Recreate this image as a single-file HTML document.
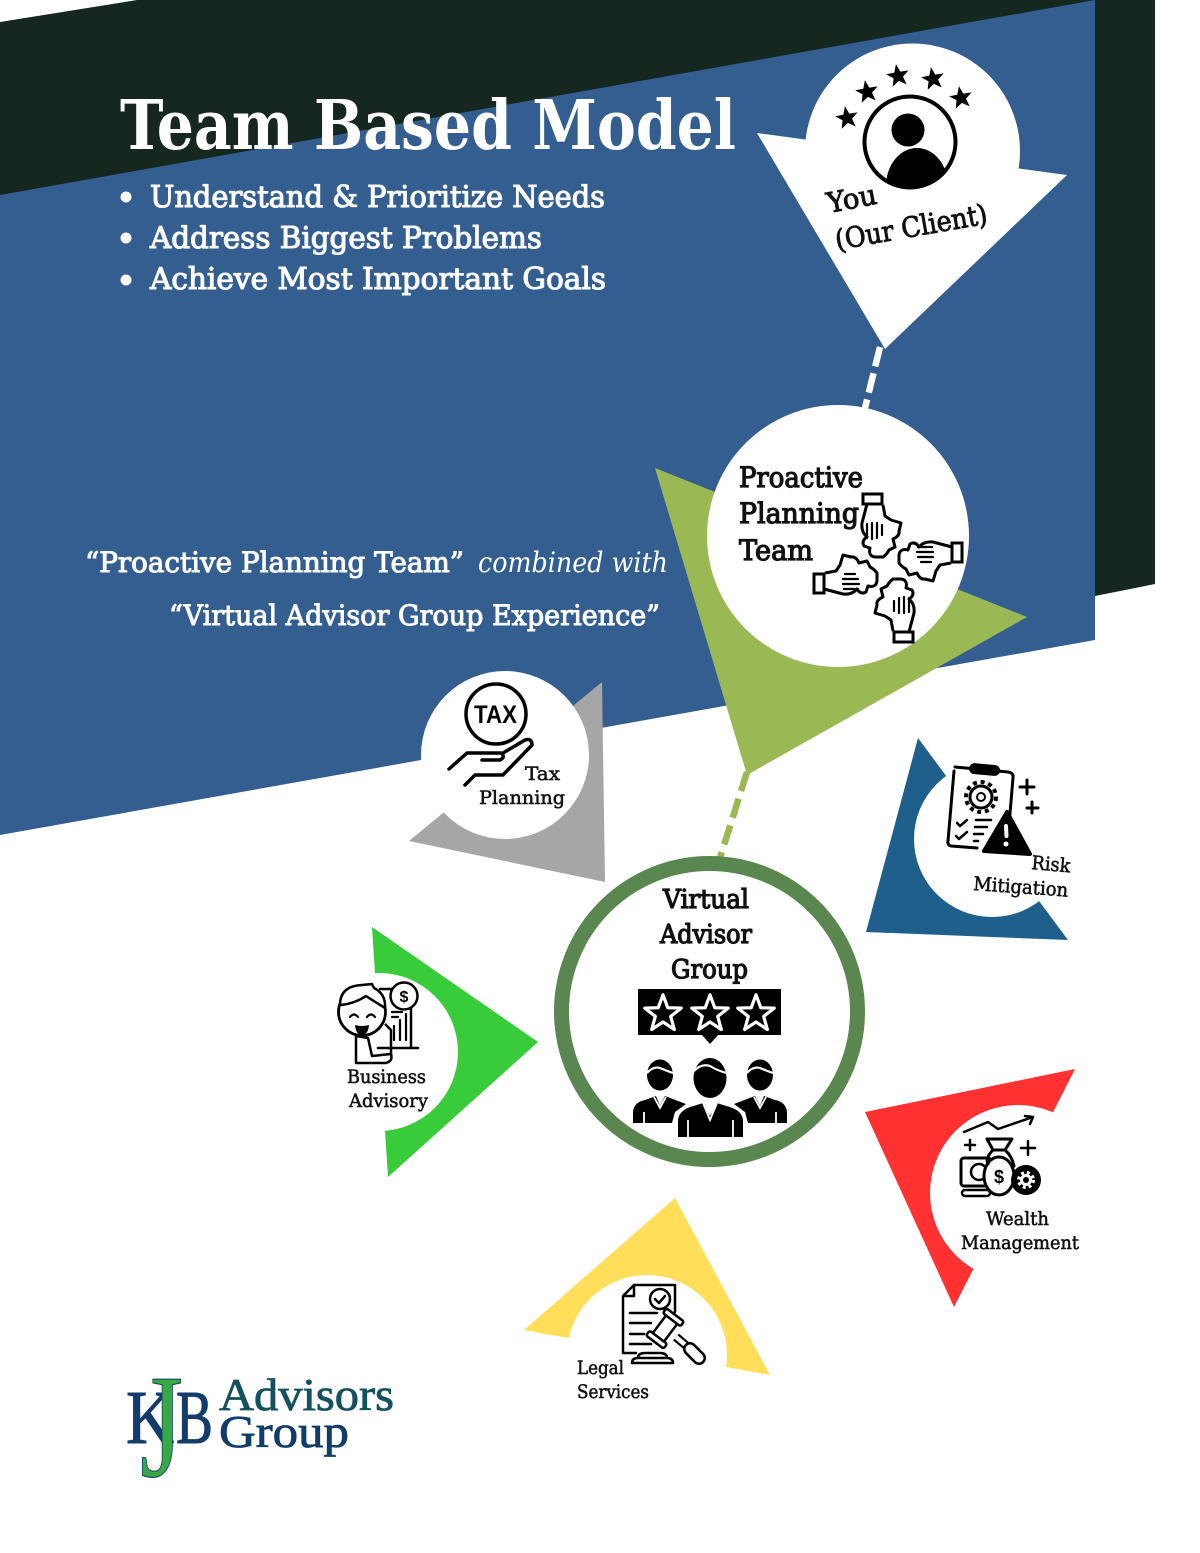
<!DOCTYPE html>
<html><head><meta charset="utf-8"><style>
html,body{margin:0;padding:0;background:#fff;width:1200px;height:1553px;overflow:hidden}
svg{display:block}
text{font-family:"DejaVu Serif","Liberation Serif",serif}
.b{font-weight:700}
.w{fill:#fff}
.k{fill:#111}
.m{stroke:#111;stroke-width:.55}
.s{fill:none;stroke:#000;stroke-linecap:round;stroke-linejoin:round}
</style></head><body>
<svg width="1200" height="1553" viewBox="0 0 1200 1553" xmlns="http://www.w3.org/2000/svg">
<defs>
<polygon id="star" points="0,-12 3,-3.9 11.4,-3.7 4.8,1.5 7.1,9.7 0,5 -7.1,9.7 -4.8,1.5 -11.4,-3.7 -3,-3.9"/>
<clipPath id="cp"><circle cx="910" cy="142" r="46"/></clipPath>
<g id="hand">
<path d="M-21,-64 L-26,-45 Q-27,-36 -21,-31 Q-27,-27 -24,-22 L-18,-20 Q-20,-12 -13,-11 L-5,-11 Q-1,-14 1,-18 L7,-21 L5,-29 Q12,-32 11,-37 L13,-45 L3,-48 L-3,-52 L-5,-63" fill="#fff" stroke="#000" stroke-width="3" stroke-linejoin="round"/>
<rect x="-25" y="-74" width="19" height="10" fill="#fff" stroke="#000" stroke-width="3"/>
<path d="M-21,-44V-30M-16,-45V-29M-11,-45V-30M-6,-43V-33" class="s" stroke-width="2.2"/>
</g>
</defs>

<!-- background -->
<polygon points="0,22 137,0 1155,0 1155,584 1095,596 0,400" fill="#15271f"/>
<polygon points="0,195 1095,0 1095,640 0,835" fill="#335e8f"/>

<!-- title -->
<text x="120" y="149" class="b w" font-size="68" textLength="616" lengthAdjust="spacingAndGlyphs">Team Based Model</text>
<circle cx="126" cy="197" r="5.5" fill="#fff"/><circle cx="126" cy="238" r="5.5" fill="#fff"/><circle cx="126" cy="280" r="5.5" fill="#fff"/>
<g class="w" font-size="30" stroke="#fff" stroke-width="1.1">
<text x="150" y="207" textLength="455" lengthAdjust="spacingAndGlyphs">Understand &amp; Prioritize Needs</text>
<text x="150" y="248" textLength="392" lengthAdjust="spacingAndGlyphs">Address Biggest Problems</text>
<text x="150" y="289" textLength="456" lengthAdjust="spacingAndGlyphs">Achieve Most Important Goals</text>
</g>
<g class="w" font-size="28">
<text x="85" y="572" stroke="#fff" stroke-width="1" textLength="379" lengthAdjust="spacingAndGlyphs">“Proactive Planning Team”</text>
<text x="478" y="572" font-style="italic" textLength="190" lengthAdjust="spacingAndGlyphs">combined with</text>
<text x="169" y="625" stroke="#fff" stroke-width="1" textLength="491" lengthAdjust="spacingAndGlyphs">“Virtual Advisor Group Experience”</text>
</g>

<!-- connectors -->
<line x1="880" y1="347" x2="865" y2="408" stroke="#fff" stroke-width="6.5" stroke-dasharray="20 7"/>
<line x1="747" y1="772" x2="720" y2="858" stroke="#9ab955" stroke-width="6.5" stroke-dasharray="20 8"/>

<!-- You -->
<polygon points="757,133 1067,175 885,349" fill="#fff"/>
<circle cx="912.5" cy="151" r="107.5" fill="#fff"/>
<g fill="#000">
<use href="#star" transform="translate(847,118) rotate(-10)"/>
<use href="#star" transform="translate(867,92) rotate(-10)"/>
<use href="#star" transform="translate(898,76) rotate(-10)"/>
<use href="#star" transform="translate(933,79) rotate(-10)"/>
<use href="#star" transform="translate(961,98) rotate(-10)"/>
</g>
<circle cx="910" cy="142" r="45.5" fill="#fff" stroke="#000" stroke-width="4"/>
<circle cx="908" cy="130" r="16.5" fill="#000"/>
<g clip-path="url(#cp)"><ellipse cx="917" cy="186" rx="31" ry="38" fill="#000"/></g>
<text transform="translate(829,213) rotate(-11)" font-size="28" class="k m" style="stroke-width:.9" textLength="50" lengthAdjust="spacingAndGlyphs">You</text>
<text transform="translate(837,250) rotate(-10)" font-size="28" class="k m" style="stroke-width:.9" textLength="154" lengthAdjust="spacingAndGlyphs">(Our Client)</text>

<!-- Proactive -->
<polygon points="655,468 1027,617 747,775" fill="#9ab955"/>
<circle cx="838" cy="536" r="131" fill="#fff"/>
<g class="k m" font-size="28" style="stroke-width:1.2">
<text x="739" y="487" textLength="124" lengthAdjust="spacingAndGlyphs">Proactive</text>
<text x="739" y="523" textLength="120" lengthAdjust="spacingAndGlyphs">Planning</text>
<text x="739" y="560" textLength="74" lengthAdjust="spacingAndGlyphs">Team</text>
</g>
<g transform="translate(888,568)">
<use href="#hand"/>
<use href="#hand" transform="rotate(90)"/>
<use href="#hand" transform="rotate(180)"/>
<use href="#hand" transform="rotate(270)"/>
</g>

<!-- Tax -->
<polygon points="602,682 605,882 409,841" fill="#a6a6a6"/>
<circle cx="505" cy="755" r="84" fill="#fff"/>
<circle cx="496" cy="714" r="30" fill="none" stroke="#000" stroke-width="3.5"/>
<text x="474" y="723" style="font-family:'Liberation Sans',sans-serif" font-weight="700" font-size="25" fill="#000" textLength="43" lengthAdjust="spacingAndGlyphs">TAX</text>
<path d="M449,769 L467,753 H501 Q506,757 500,760 H482 M503,753 L525,740 Q532,738 532,745 L503,775 H475 L465,785" class="s" stroke-width="3.5"/>
<g class="k m" font-size="19">
<text x="525" y="780" textLength="35" lengthAdjust="spacingAndGlyphs">Tax</text>
<text x="479" y="804" textLength="86" lengthAdjust="spacingAndGlyphs">Planning</text>
</g>

<!-- Virtual Advisor Group -->
<circle cx="709.5" cy="1011.5" r="148" fill="#fff" stroke="#5a8650" stroke-width="15"/>
<g class="k m" font-size="26" style="stroke-width:1.2">
<text x="663" y="908" textLength="86" lengthAdjust="spacingAndGlyphs">Virtual</text>
<text x="660" y="943" textLength="92" lengthAdjust="spacingAndGlyphs">Advisor</text>
<text x="671" y="978" textLength="77" lengthAdjust="spacingAndGlyphs">Group</text>
</g>
<rect x="638" y="989" width="143" height="46" fill="#000"/>
<polygon points="702,1035 718,1035 710,1044" fill="#000"/>
<g fill="#000" stroke="#fff" stroke-width="2" stroke-linejoin="round">
<use href="#star" transform="translate(663,1014) scale(1.6)"/>
<use href="#star" transform="translate(710,1014) scale(1.6)"/>
<use href="#star" transform="translate(756,1014) scale(1.6)"/>
</g>
<g fill="#000">
<ellipse cx="660" cy="1075" rx="13" ry="15.5"/>
<ellipse cx="760" cy="1075" rx="13" ry="15.5"/>
<path d="M633,1123 V1112 Q634,1102 645,1100 L656,1096 L660,1106 L665,1096 L686,1104 L675,1112 L672,1123 Z"/>
<path d="M787,1123 V1112 Q786,1102 775,1100 L764,1096 L760,1106 L755,1096 L734,1104 L745,1112 L748,1123 Z"/>
<path d="M677,1138 V1120 Q678,1110 690,1106 L703,1102 L710,1114 L717,1102 L730,1106 Q743,1110 744,1120 V1138 Z" stroke="#fff" stroke-width="2"/>
<ellipse cx="710" cy="1078" rx="16.5" ry="20"/>
</g>
<path d="M647,1073 Q653,1066 660,1068 Q667,1071 673,1073 M747,1073 Q753,1066 760,1068 Q767,1071 773,1073 M693,1072 Q701,1063 710,1066 Q718,1071 727,1073" fill="none" stroke="#fff" stroke-width="2.2"/>
<path d="M654,1097 L660,1108 L666,1097 M754,1097 L760,1108 L766,1097 M703,1103 L710,1120 L717,1103 M644,1123 V1112 M776,1123 V1112 M688,1138 V1120 M733,1138 V1120" fill="none" stroke="#fff" stroke-width="1.8"/>

<!-- Risk -->
<polygon points="918,738 1068,940 866,932" fill="#1f5f8b"/>
<circle cx="992" cy="839" r="78" fill="#fff"/>
<path d="M955,767 L1008,772 Q1014,773 1013,778 L1009,825 M977,848 L951,846 Q947,845 948,841 L954,771" class="s" stroke-width="3"/>
<rect x="969" y="764" width="31" height="11" rx="5.5" fill="#000" transform="rotate(5 984 770)"/>
<circle cx="981" cy="797" r="11" fill="none" stroke="#000" stroke-width="3"/>
<circle cx="981" cy="797" r="15" fill="none" stroke="#000" stroke-width="4" stroke-dasharray="4 3.8"/>
<circle cx="981" cy="797" r="4" fill="none" stroke="#000" stroke-width="2"/>
<path d="M957,823 l3,3 l7,-6 M956,836 l3,3 l8,-7 M976,820 h15 M975,827 h12 M974,834 h9 M974,841 h4" class="s" stroke-width="2.5"/>
<polygon points="1007,812 1030,854 984,851" fill="#000" stroke="#000" stroke-width="4" stroke-linejoin="round"/>
<path d="M1006,826 l0.5,10" stroke="#fff" stroke-width="4" stroke-linecap="round"/>
<circle cx="1006" cy="844" r="2.5" fill="#fff"/>
<path d="M1027,780 v14 M1020,787 h14 M1032,802 v11 M1027,808 h11" class="s" stroke-width="3"/>
<text transform="translate(1031,869) rotate(5)" class="k m" font-size="19" textLength="39" lengthAdjust="spacingAndGlyphs">Risk</text>
<text transform="translate(973,890) rotate(4)" class="k m" font-size="19" textLength="95" lengthAdjust="spacingAndGlyphs">Mitigation</text>

<!-- Wealth -->
<polygon points="865,1112 1075,1069 954,1307" fill="#ff3131"/>
<circle cx="1018" cy="1193" r="88" fill="#fff"/>
<path d="M964,1132 L988,1122 L998,1129 L1033,1117 M1025,1116 L1033,1117 L1030,1124" class="s" stroke-width="2.5"/>
<path d="M970,1140 v10 M965,1145 h10 M1028,1141 v14 M1021,1148 h14" class="s" stroke-width="2.5"/>
<rect x="961" y="1158" width="30" height="28" rx="3" fill="#fff" stroke="#000" stroke-width="3"/>
<circle cx="979" cy="1172" r="8" fill="none" stroke="#000" stroke-width="2.5"/>
<rect x="962" y="1190" width="28" height="6" rx="3" fill="#fff" stroke="#000" stroke-width="2.5"/>
<path d="M987,1139 H1012 L1005,1150 H993 Z" fill="#fff" stroke="#000" stroke-width="3" stroke-linejoin="round"/>
<ellipse cx="999" cy="1176" rx="15" ry="19" fill="#fff" stroke="#000" stroke-width="3"/>
<path d="M993,1150 Q985,1158 988,1164 M1005,1150 Q1012,1156 1014,1166" class="s" stroke-width="3"/>
<text x="999" y="1183" text-anchor="middle" style="font-family:'Liberation Sans',sans-serif" font-weight="700" font-size="18" fill="#000">$</text>
<circle cx="1026" cy="1180" r="15" fill="#000"/>
<circle cx="1026" cy="1180" r="4.5" fill="none" stroke="#fff" stroke-width="3"/>
<circle cx="1026" cy="1180" r="7.5" fill="none" stroke="#fff" stroke-width="3" stroke-dasharray="3 3"/>
<g class="k m" font-size="19">
<text x="986" y="1225" textLength="63" lengthAdjust="spacingAndGlyphs">Wealth</text>
<text x="961" y="1249" textLength="118" lengthAdjust="spacingAndGlyphs">Management</text>
</g>

<!-- Business -->
<polygon points="372,927 538,1042 388,1177" fill="#38cb3a"/>
<circle cx="379" cy="1052" r="79" fill="#fff"/>
<path d="M380,989 H411 V1048 M378,1048 H418" class="s" stroke-width="2.5"/>
<path d="M394,1040 V1026 M400,1040 V1020 M406,1040 V1014 M392,1012 h10 M392,1017 h6" class="s" stroke-width="2.2"/>
<circle cx="404" cy="996" r="13.5" fill="#fff" stroke="#000" stroke-width="2.5"/>
<text x="404" y="1002" text-anchor="middle" style="font-family:'Liberation Sans',sans-serif" font-weight="700" font-size="16" fill="#000">$</text>
<path d="M356,1036 V1063 H386 Q393,1061 391,1054 L372,1056 L368,1038 Z M391,1054 L391,1030 L385,1024" fill="#fff" stroke="#000" stroke-width="2.5" stroke-linejoin="round"/>
<circle cx="362" cy="1012" r="23.5" fill="#fff" stroke="#000" stroke-width="2.8"/>
<path d="M340,1005 Q340,986 362,985 L372,984 L374,988 Q386,994 385,1008 Q372,1000 366,996 Q354,1004 340,1005 Z" fill="#fff" stroke="#000" stroke-width="2.5" stroke-linejoin="round"/>
<path d="M350,1017 q4,-5 8,0 M367,1017 q4,-5 8,0" class="s" stroke-width="2.2"/>
<path d="M355,1025 Q362,1027 369,1025 Q368,1035 362,1035 Q356,1035 355,1025 Z" fill="#000"/>
<g class="k m" font-size="19">
<text x="347" y="1083" textLength="79" lengthAdjust="spacingAndGlyphs">Business</text>
<text x="349" y="1107" textLength="79" lengthAdjust="spacingAndGlyphs">Advisory</text>
</g>

<!-- Legal -->
<polygon points="524,1330 675,1198 770,1375" fill="#ffde59"/>
<circle cx="647" cy="1355" r="80" fill="#fff"/>
<path d="M634,1285 H675 V1312 M636,1353 H623 V1296 L634,1285 V1296 H623" class="s" stroke-width="2.5"/>
<circle cx="660" cy="1299" r="10" fill="#fff" stroke="#000" stroke-width="2.5"/>
<path d="M655,1299 l4,4 l6,-7" class="s" stroke-width="2.5"/>
<path d="M630,1313 H657 M630,1323 H651 M630,1334 H644 M630,1344 H651" class="s" stroke-width="2.5"/>
<path d="M638,1358 Q638,1353 645,1353 H660 Q667,1353 667,1358 H638 Z M632,1363 Q632,1358 638,1358 H667 Q673,1358 673,1363 Z" fill="#fff" stroke="#000" stroke-width="2.5" stroke-linejoin="round"/>
<line x1="676" y1="1337" x2="689" y2="1348" stroke="#000" stroke-width="9"/>
<line x1="676" y1="1337" x2="689" y2="1348" stroke="#fff" stroke-width="4.5"/>
<line x1="690" y1="1349" x2="699" y2="1358" stroke="#000" stroke-width="14" stroke-linecap="round"/>
<line x1="690" y1="1349" x2="699" y2="1358" stroke="#fff" stroke-width="9" stroke-linecap="round"/>
<g transform="translate(665,1328.5) rotate(37)">
<rect x="-7" y="-13" width="14" height="26" fill="#fff" stroke="#000" stroke-width="2.5"/>
<rect x="-11" y="-17" width="22" height="6" rx="2" fill="#fff" stroke="#000" stroke-width="2.5"/>
<rect x="-11" y="11" width="22" height="6" rx="2" fill="#fff" stroke="#000" stroke-width="2.5"/>
</g>
<g class="k m" font-size="19">
<text x="577" y="1374" textLength="47" lengthAdjust="spacingAndGlyphs">Legal</text>
<text x="577" y="1398" textLength="72" lengthAdjust="spacingAndGlyphs">Services</text>
</g>

<!-- Logo -->
<text x="126" y="1443" style="font-family:'Liberation Serif',serif" font-size="76" fill="#123c69" stroke="#123c69" stroke-width="1" textLength="48" lengthAdjust="spacingAndGlyphs">K</text>
<text x="176" y="1443" style="font-family:'Liberation Serif',serif" font-size="76" fill="#123c69" stroke="#123c69" stroke-width="1" textLength="37" lengthAdjust="spacingAndGlyphs">B</text>
<text x="140" y="1476" style="font-family:'Liberation Serif',serif" font-size="148" fill="#38a845" stroke="#123c69" stroke-width="1" textLength="43" lengthAdjust="spacingAndGlyphs">J</text>
<text x="219" y="1410" style="font-family:'Liberation Serif',serif" font-size="46" fill="#14505e" stroke="#14505e" stroke-width=".8" textLength="175" lengthAdjust="spacingAndGlyphs">Advisors</text>
<text x="219" y="1447" style="font-family:'Liberation Serif',serif" font-size="46" fill="#123c69" stroke="#123c69" stroke-width=".8" textLength="130" lengthAdjust="spacingAndGlyphs">Group</text>
</svg>
</body></html>
